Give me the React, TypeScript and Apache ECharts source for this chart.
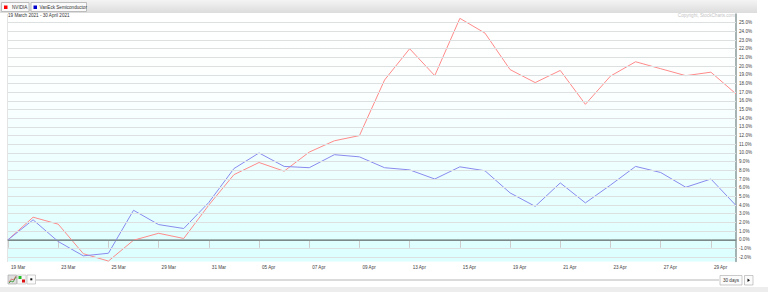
import React, { useEffect, useRef } from "react";
import * as echarts from "echarts";

const dates = ["19 Mar","22 Mar","23 Mar","24 Mar","25 Mar","26 Mar","29 Mar","30 Mar","31 Mar","01 Apr","05 Apr","06 Apr","07 Apr","08 Apr","09 Apr","12 Apr","13 Apr","14 Apr","15 Apr","16 Apr","19 Apr","20 Apr","21 Apr","22 Apr","23 Apr","26 Apr","27 Apr","28 Apr","29 Apr","30 Apr"];
const nvidia = [0, 2.6, 1.8, -1.6, -2.45, -0.05, 0.75, 0.15, 4.0, 7.5, 8.9, 7.9, 10.1, 11.4, 12.0, 18.4, 22.0, 18.9, 25.5, 23.8, 19.6, 18.1, 19.5, 15.6, 18.85, 20.5, 19.7, 18.9, 19.3, 16.8];
const vaneck = [0, 2.3, -0.2, -1.85, -1.55, 3.4, 1.75, 1.3, 4.3, 8.2, 10.0, 8.45, 8.3, 9.8, 9.55, 8.3, 8.05, 7.0, 8.4, 7.95, 5.4, 3.85, 6.55, 4.25, 6.3, 8.45, 7.75, 6.05, 7.0, 3.95];
const yTicks = [-2,-1,0,1,2,3,4,5,6,7,8,9,10,11,12,13,14,15,16,17,18,19,20,21,22,23,24,25];
const seriesNames = ["NVIDIA", "VanEck Semiconductor"];
const title = "19 March 2021 - 30 April 2021";
const copyright = "Copyright, StockCharts.com";

const FONT = "'Liberation Sans', Arial, sans-serif";
const FS = 4.6;

export default function App() {
  const ref = useRef<HTMLDivElement>(null);
  useEffect(() => {
    if (!ref.current) return;
    const chart = echarts.init(ref.current, null, { renderer: "svg" });
    const gridData: any[] = yTicks.map((v) =>
      v === 0
        ? { yAxis: v, lineStyle: { color: "#7c8a8a", width: 1.2, type: "solid" } }
        : { yAxis: v }
    );
    chart.setOption({
      animation: false,
      backgroundColor: "#ffffff",
      grid: {
        left: 8,
        right: 32,
        top: 14,
        bottom: 30.5,
        show: true,
        borderWidth: 0,
        backgroundColor: new echarts.graphic.LinearGradient(0, 0, 0, 1, [
          { offset: 0, color: "#ffffff" },
          { offset: 0.3, color: "#fcffff" },
          { offset: 1, color: "#dcffff" },
        ]),
      },
      xAxis: {
        type: "category",
        boundaryGap: false,
        data: dates,
        axisLine: { show: true, lineStyle: { color: "#8a9a9a", width: 1.5 } },
        axisTick: { show: true, interval: 1, length: 8, lineStyle: { color: "#cccccc" } },
        axisLabel: {
          interval: 1,
          align: "left",
          padding: [0, 0, 0, 3],
          margin: 3,
          fontSize: FS,
          color: "#444",
          fontFamily: FONT,
        },
        splitLine: { show: false },
      },
      yAxis: {
        type: "value",
        position: "right",
        min: -2.5,
        max: 26,
        axisLine: { show: true, lineStyle: { color: "#8a9a9a", width: 1.5 } },
        axisTick: { show: false },
        splitLine: { show: false },
        axisLabel: {
          customValues: yTicks,
          formatter: (v: number) => v.toFixed(1) + "%",
          fontSize: FS,
          color: "#444",
          margin: 3,
          fontFamily: FONT,
        },
      },
      series: [
        {
          type: "line",
          data: [],
          z: 1,
          silent: true,
          markLine: {
            silent: true,
            symbol: ["none", "none"],
            label: { show: false },
            emphasis: { disabled: true },
            lineStyle: { color: "#dce0e0", width: 1, type: "solid" },
            data: gridData,
          },
        },
        {
          name: seriesNames[0],
          type: "line",
          data: nvidia,
          z: 3,
          showSymbol: false,
          lineStyle: { color: "#ff8a8a", width: 1 },
          itemStyle: { color: "#ff8a8a" },
        },
        {
          name: seriesNames[1],
          type: "line",
          data: vaneck,
          z: 3,
          showSymbol: false,
          lineStyle: { color: "#8a8aee", width: 1 },
          itemStyle: { color: "#8a8aee" },
        },
      ],
      graphic: [
        {
          type: "rect",
          shape: { x: 0, y: 0, width: 757, height: 13 },
          style: {
            fill: new echarts.graphic.LinearGradient(0, 0, 0, 1, [
              { offset: 0, color: "#f4f4f4" },
              { offset: 1, color: "#dcdcdc" },
            ]),
          },
          silent: true,
        },
        {
          type: "rect",
          shape: { x: 1.5, y: 2.5, width: 27.5, height: 9 },
          style: { fill: "#fafafa", stroke: "#b0b0b0", lineWidth: 0.8 },
        },
        { type: "rect", shape: { x: 4, y: 5.5, width: 3.5, height: 3.5 }, style: { fill: "#ff0000" } },
        {
          type: "text",
          x: 12,
          y: 7.3,
          style: { text: seriesNames[0], fontSize: FS, fontFamily: FONT, fill: "#333", verticalAlign: "middle" },
        },
        {
          type: "rect",
          shape: { x: 31, y: 2.5, width: 55.5, height: 9 },
          style: { fill: "#fafafa", stroke: "#b0b0b0", lineWidth: 0.8 },
        },
        { type: "rect", shape: { x: 33.5, y: 5.5, width: 3.5, height: 3.5 }, style: { fill: "#0000cc" } },
        {
          type: "text",
          x: 39.5,
          y: 7.3,
          style: { text: seriesNames[1], fontSize: FS, fontFamily: FONT, fill: "#333", verticalAlign: "middle" },
        },
        {
          type: "text",
          x: 8,
          y: 15.5,
          style: { text: title, fontSize: FS, fontFamily: FONT, fill: "#333", verticalAlign: "middle" },
        },
        {
          type: "text",
          x: 735,
          y: 15.5,
          style: { text: copyright, fontSize: FS, fontFamily: FONT, fill: "#c4c4c4", align: "right", verticalAlign: "middle" },
        },
        { type: "line", shape: { x1: 7.5, y1: 14, x2: 7.5, y2: 262 }, style: { stroke: "#e4e4e4", lineWidth: 1 } },
        { type: "line", shape: { x1: 36, y1: 280, x2: 719, y2: 280 }, style: { stroke: "#cfcfcf", lineWidth: 1.5 } },
        {
          type: "rect",
          shape: { x: 8, y: 275, width: 8.5, height: 9 },
          style: { fill: "#dedede", stroke: "#a0a0a0", lineWidth: 0.6 },
        },
        {
          type: "polyline",
          shape: { points: [[9, 283], [11, 281], [13, 282], [16, 277]] },
          style: { stroke: "#2a9a2a", lineWidth: 0.8, fill: "none" },
        },
        {
          type: "polyline",
          shape: { points: [[9, 282], [11.5, 279], [13.5, 280], [16, 276]] },
          style: { stroke: "#cc3333", lineWidth: 0.6, fill: "none" },
        },
        {
          type: "rect",
          shape: { x: 17.5, y: 275, width: 8.5, height: 9 },
          style: { fill: "#f6f6f6", stroke: "#c0c0c0", lineWidth: 0.6 },
        },
        { type: "rect", shape: { x: 18.5, y: 276, width: 3, height: 3 }, style: { fill: "#22bb22" } },
        { type: "rect", shape: { x: 22, y: 279.5, width: 3, height: 3 }, style: { fill: "#dd1111" } },
        {
          type: "rect",
          shape: { x: 27, y: 275, width: 8.5, height: 9 },
          style: { fill: "#fbfbfb", stroke: "#b0b0b0", lineWidth: 0.6 },
        },
        { type: "rect", shape: { x: 30.3, y: 278.3, width: 2, height: 2 }, style: { fill: "#111" } },
        {
          type: "rect",
          shape: { x: 720, y: 275.5, width: 22, height: 9.5 },
          style: { fill: "#fbfbfb", stroke: "#a8a8a8", lineWidth: 0.6 },
        },
        {
          type: "text",
          x: 731,
          y: 280.3,
          style: { text: "30 days", fontSize: FS, fontFamily: FONT, fill: "#333", align: "center", verticalAlign: "middle" },
        },
        {
          type: "rect",
          shape: { x: 744.5, y: 275.5, width: 8.5, height: 9.5 },
          style: { fill: "#fbfbfb", stroke: "#a8a8a8", lineWidth: 0.6 },
        },
        {
          type: "polygon",
          shape: { points: [[747.5, 278.5], [750, 280.3], [747.5, 282]] },
          style: { fill: "#111" },
        },
        {
          type: "rect",
          shape: { x: 0, y: 287, width: 768, height: 5 },
          style: { fill: "#ededed" },
          silent: true,
        },
      ],
    });
    return () => chart.dispose();
  }, []);
  return <div ref={ref} style={{ width: 768, height: 292, position: "fixed", left: 0, top: 0 }} />;
}
